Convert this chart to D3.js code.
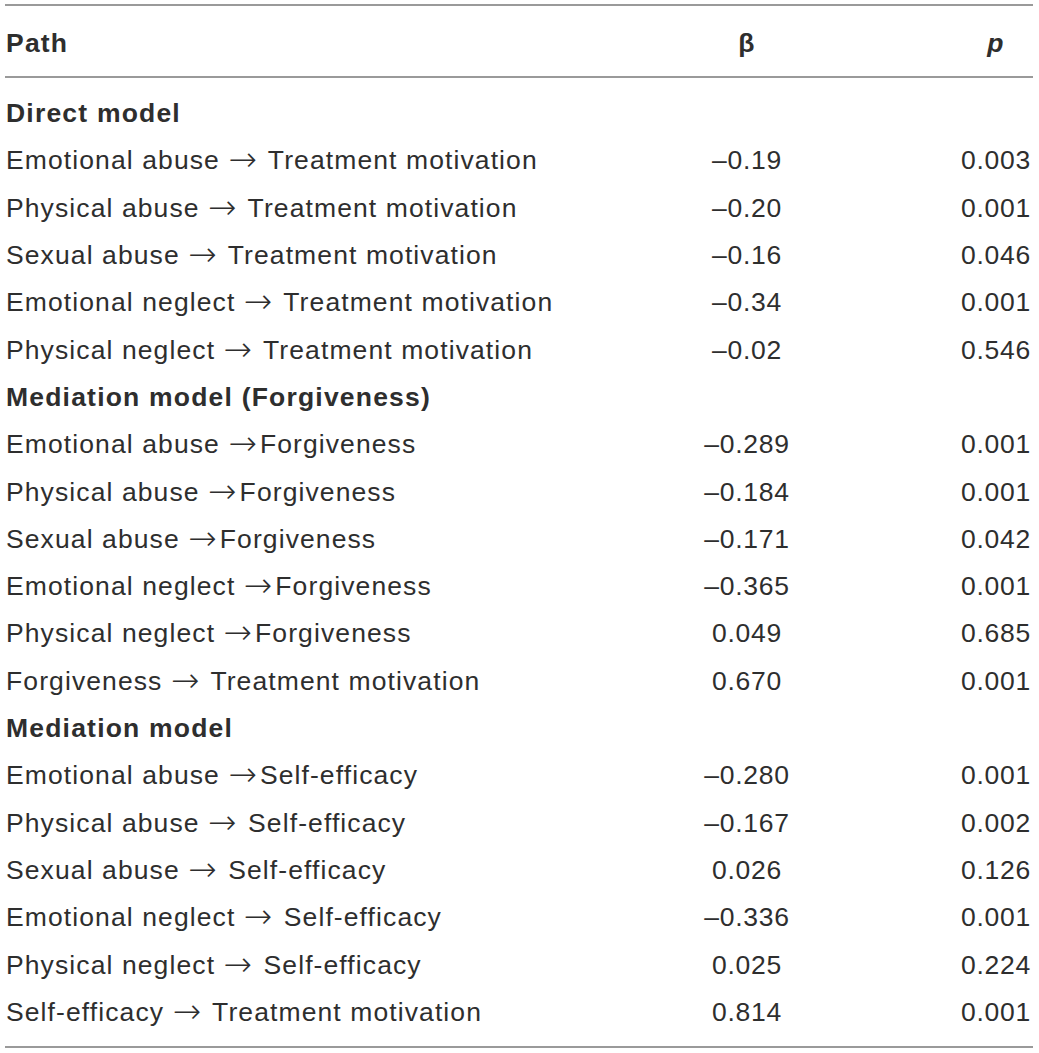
<!DOCTYPE html>
<html>
<head>
<meta charset="utf-8">
<script src="https://cdn.jsdelivr.net/npm/d3@7"></script>
<style>
  body { margin: 0; background: #fff; }
  svg text { font-family: "Liberation Sans", Arial, sans-serif; fill: #2e2e2e; }
  svg tspan.arrow { font-family: "DejaVu Sans", sans-serif; font-weight: 200; }
</style>
</head>
<body>
<svg id="tbl" width="1039" height="1053"></svg>
<script>
'use strict';

var headers = ["Path", "\u03b2", "p"];
var sections = ["Direct model", "Mediation model (Forgiveness)", "Mediation model"];

var directPaths = [
  "Emotional abuse \u2192 Treatment motivation",
  "Physical abuse \u2192 Treatment motivation",
  "Sexual abuse \u2192 Treatment motivation",
  "Emotional neglect \u2192 Treatment motivation",
  "Physical neglect \u2192 Treatment motivation"
];
var directBeta = ["\u20130.19", "\u20130.20", "\u20130.16", "\u20130.34", "\u20130.02"];
var directP = ["0.003", "0.001", "0.046", "0.001", "0.546"];

var forgivePaths = [
  "Emotional abuse \u2192Forgiveness",
  "Physical abuse \u2192Forgiveness",
  "Sexual abuse \u2192Forgiveness",
  "Emotional neglect \u2192Forgiveness",
  "Physical neglect \u2192Forgiveness",
  "Forgiveness \u2192 Treatment motivation"
];
var forgiveBeta = ["\u20130.289", "\u20130.184", "\u20130.171", "\u20130.365", "0.049", "0.670"];
var forgiveP = ["0.001", "0.001", "0.042", "0.001", "0.685", "0.001"];

var efficacyPaths = [
  "Emotional abuse \u2192Self-efficacy",
  "Physical abuse \u2192 Self-efficacy",
  "Sexual abuse \u2192 Self-efficacy",
  "Emotional neglect \u2192 Self-efficacy",
  "Physical neglect \u2192 Self-efficacy",
  "Self-efficacy \u2192 Treatment motivation"
];
var efficacyBeta = ["\u20130.280", "\u20130.167", "0.026", "\u20130.336", "0.025", "0.814"];
var efficacyP = ["0.001", "0.002", "0.126", "0.001", "0.224", "0.001"];

// flatten into rows: section title rows + data rows
var rows = [];
[[directPaths, directBeta, directP],
 [forgivePaths, forgiveBeta, forgiveP],
 [efficacyPaths, efficacyBeta, efficacyP]].forEach(function(s, si) {
  rows.push({section: true, path: sections[si]});
  s[0].forEach(function(p, i) {
    rows.push({section: false, path: p, beta: s[1][i], p: s[2][i]});
  });
});

var svg = d3.select("#tbl");
var fontSize = 26.5;
var left = 5, right = 1033;

// row baselines
var y = d3.scaleLinear().domain([0, rows.length - 1]).range([122, 1021]);
var headerY = 52;

// column anchors
var colX = {path: 6, beta: 747, p: 996};

function rule(yy) {
  svg.append("line")
    .attr("x1", left).attr("x2", right)
    .attr("y1", yy).attr("y2", yy)
    .attr("stroke", "#9a9a9a").attr("stroke-width", 2);
}
rule(5);
rule(77);
rule(1047);

// header
var head = svg.append("g").attr("font-size", fontSize).attr("font-weight", "bold")
  .attr("letter-spacing", 1.2);
head.append("text").attr("x", colX.path).attr("y", headerY).text(headers[0]);
head.append("text").attr("x", colX.beta).attr("y", headerY).attr("text-anchor", "middle").text(headers[1]);
head.append("text").attr("x", colX.p).attr("y", headerY).attr("text-anchor", "middle")
  .attr("font-style", "italic").text(headers[2]);

var g = svg.append("g").attr("font-size", fontSize);
var rowG = g.selectAll("g.row").data(rows).enter().append("g").attr("class", "row")
  .attr("transform", function(d, i) { return "translate(0," + y(i) + ")"; });

// path label; the arrow goes in its own tspan so it gets a font that has it
rowG.append("text")
  .attr("x", colX.path)
  .attr("font-weight", function(d) { return d.section ? "bold" : "normal"; })
  .attr("letter-spacing", function(d) { return d.section ? 1.2 : 1.1; })
  .each(function(d) {
    var t = d3.select(this);
    d.path.split("\u2192").forEach(function(part, k) {
      if (k > 0) {
        t.append("tspan").attr("class", "arrow").attr("dy", 2)
          .attr("font-size", 34).attr("letter-spacing", 3).text("\u2192");
        t.append("tspan").attr("dy", -2).text(part);
      } else {
        t.append("tspan").text(part);
      }
    });
  });

rowG.filter(function(d) { return !d.section; }).append("text")
  .attr("x", colX.beta).attr("text-anchor", "middle").attr("letter-spacing", 0.7)
  .text(function(d) { return d.beta; });

rowG.filter(function(d) { return !d.section; }).append("text")
  .attr("x", colX.p).attr("text-anchor", "middle").attr("letter-spacing", 0.7)
  .text(function(d) { return d.p; });
</script>
</body>
</html>
